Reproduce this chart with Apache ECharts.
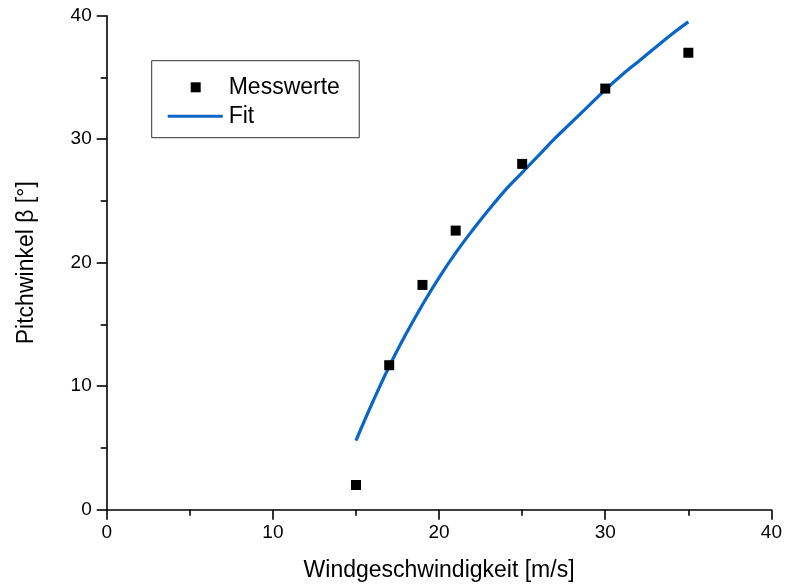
<!DOCTYPE html>
<html>
<head>
<meta charset="utf-8">
<script src="https://cdn.jsdelivr.net/npm/echarts@6/dist/echarts.min.js"></script>
<style>
  html, body { margin: 0; padding: 0; background: #fff; }
  #chart { width: 785px; height: 587px; }
</style>
</head>
<body>
<div id="chart"></div>
<script>
// measured points
const windSpeed = [15, 17, 19, 21, 25, 30, 35]
const pitchAngle = [2.0, 11.7, 18.2, 22.6, 28.0, 34.1, 37.0]

// fit curve
const fitSpeed = [15, 16, 17, 18, 19, 20, 21, 22, 23, 24, 25, 26, 27, 28, 29, 30, 31, 32, 33, 34, 35]
const fitAngle = [5.6, 8.7, 11.6, 14.2, 16.6, 18.8, 20.8, 22.6, 24.3, 25.9, 27.3, 28.7, 30.1, 31.4, 32.7, 34.0, 35.2, 36.3, 37.4, 38.5, 39.5]

const xTicks = [0, 10, 20, 30, 40]
const yTicks = [0, 10, 20, 30, 40]

const font = "'Liberation Sans', Arial, sans-serif"
const blue = '#0a66c6'

const chart = echarts.init(document.getElementById('chart'), null, { renderer: 'canvas' })

const axisCommon = {
  type: 'value',
  interval: 10,
  splitLine: { show: false },
  axisLine: { show: true, onZero: false, lineStyle: { color: '#000', width: 1.6 } },
  axisTick: { show: true, inside: false, length: 10, lineStyle: { color: '#000', width: 1.6 } },
  minorTick: { show: true, splitNumber: 2, length: 6, lineStyle: { color: '#000', width: 1.6 } },
  axisLabel: { color: '#000', fontSize: 19, fontFamily: font },
  nameLocation: 'middle',
  nameTextStyle: { color: '#000', fontSize: 23, fontFamily: font }
}

const option = {
  animation: false,
  backgroundColor: '#fff',
  grid: { left: 106.7, right: 12, top: 15.7, bottom: 77.3, containLabel: false },
  xAxis: Object.assign({}, axisCommon, {
    min: xTicks[0],
    max: xTicks[xTicks.length - 1],
    name: 'Windgeschwindigkeit [m/s]',
    nameGap: 49,
    axisLabel: Object.assign({}, axisCommon.axisLabel, { margin: 14 })
  }),
  yAxis: Object.assign({}, axisCommon, {
    min: yTicks[0],
    max: yTicks[yTicks.length - 1],
    name: 'Pitchwinkel β [°]',
    nameGap: 69,
    nameRotate: 90,
    axisLabel: Object.assign({}, axisCommon.axisLabel, { margin: 15 })
  }),
  legend: [
    {
      data: ['Messwerte'],
      left: 190.7,
      top: 75.8,
      padding: 0,
      itemWidth: 10,
      itemHeight: 10,
      icon: 'rect',
      itemStyle: { color: '#000', opacity: 1 },
      textStyle: { color: '#000', fontSize: 23, fontFamily: font, padding: [0, 0, 0, 23] }
    },
    {
      data: ['Fit'],
      left: 151.7,
      top: 60.7,
      padding: [44, 105, 10, 16],
      itemWidth: 55,
      itemHeight: 3,
      icon: 'rect',
      itemStyle: { color: blue },
      borderColor: '#333',
      borderWidth: 1,
      textStyle: { color: '#000', fontSize: 23, fontFamily: font, padding: [0, 0, 0, 1] }
    }
  ],
  series: [
    {
      name: 'Fit',
      type: 'line',
      data: fitSpeed.map((x, i) => [x, fitAngle[i]]),
      smooth: 0.4,
      showSymbol: false,
      symbol: 'none',
      lineStyle: { color: blue, width: 3.2 },
      itemStyle: { color: blue },
      z: 2
    },
    {
      name: 'Messwerte',
      type: 'scatter',
      data: windSpeed.map((x, i) => [x, pitchAngle[i]]),
      symbol: 'rect',
      symbolSize: 10,
      itemStyle: { color: '#000', opacity: 1 },
      z: 3
    }
  ]
}

chart.setOption(option)
</script>
</body>
</html>
